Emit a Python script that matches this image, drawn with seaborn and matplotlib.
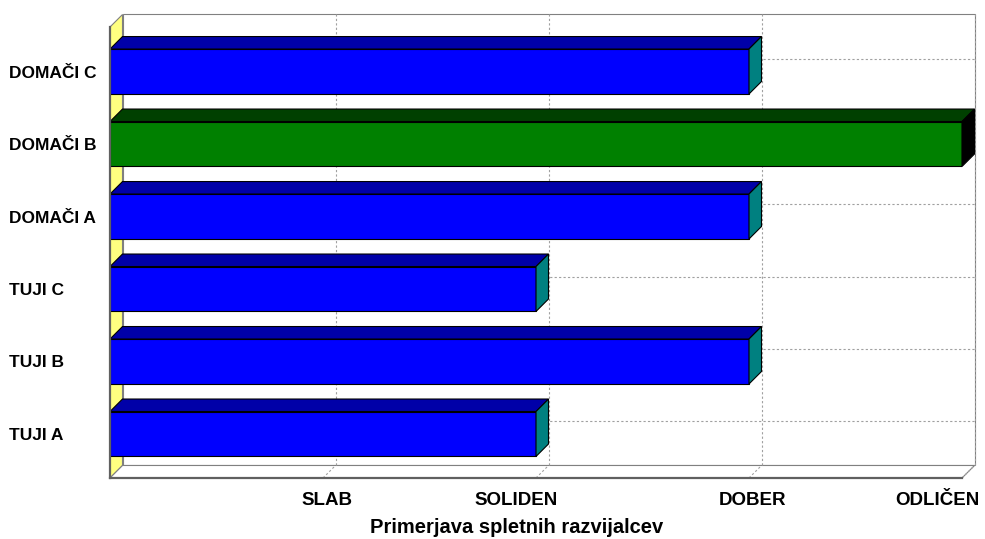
import matplotlib
matplotlib.use('Agg')
import matplotlib.pyplot as plt
import matplotlib.transforms as mtransforms
from matplotlib.patches import Polygon
import seaborn as sns

# Podatki
skupine = ['DOMAČI C', 'DOMAČI B', 'DOMAČI A', 'TUJI C', 'TUJI B', 'TUJI A']
ocene = [3, 4, 3, 2, 3, 2]
oznake_ocen = ['SLAB', 'SOLIDEN', 'DOBER', 'ODLIČEN']
polozaji_ocen = [1, 2, 3, 4]

barve_spredaj = ['#0000FF', '#008000', '#0000FF', '#0000FF', '#0000FF', '#0000FF']
barve_zgoraj = ['#0000A8', '#004000', '#0000A8', '#0000A8', '#0000A8', '#0000A8']
barve_stran = ['#008080', '#000000', '#008080', '#008080', '#008080', '#008080']

sns.set_style('white')
plt.rcParams['font.family'] = ['Liberation Sans', 'DejaVu Sans']
plt.rcParams['font.weight'] = 'bold'
plt.rcParams['text.color'] = 'black'
plt.rcParams['axes.labelcolor'] = 'black'
plt.rcParams['xtick.labelcolor'] = 'black'
plt.rcParams['ytick.labelcolor'] = 'black'

fig = plt.figure(figsize=(9.85, 5.39), dpi=100)
ax = fig.add_axes([110 / 985, 1 - 478 / 539, 852 / 985, 451 / 539])

sns.barplot(x=ocene, y=skupine, hue=skupine, palette=barve_spredaj, legend=False,
            orient='h', width=0.62, saturation=1, edgecolor='black', linewidth=0.8,
            ax=ax, zorder=3)

ax.set_xlim(0, 4)
ax.set_ylim(5.607, -0.614)
y_spodaj, y_zgoraj = 5.607, -0.614

# globina 3D v podatkovnih enotah
globina_px = 12.5
dx = globina_px / (852 / 4)
dy = globina_px / (451 / (y_spodaj - y_zgoraj))

siva = '#808080'
# stena levo, tla, zadnja stena
ax.add_patch(Polygon([(0, y_spodaj), (0, y_zgoraj), (dx, y_zgoraj - dy), (dx, y_spodaj - dy)],
                     facecolor='#FFFF80', edgecolor=siva, lw=0.8, clip_on=False, zorder=0.5))
ax.add_patch(Polygon([(0, y_spodaj), (4, y_spodaj), (4 + dx, y_spodaj - dy), (dx, y_spodaj - dy)],
                     facecolor='white', edgecolor=siva, lw=0.8, clip_on=False, zorder=0.5))
ax.add_patch(Polygon([(dx, y_spodaj - dy), (4 + dx, y_spodaj - dy), (4 + dx, y_zgoraj - dy), (dx, y_zgoraj - dy)],
                     facecolor='white', edgecolor=siva, lw=0.8, clip_on=False, zorder=0.4))

# mreža na zadnji steni
for t in polozaji_ocen:
    ax.plot([t + dx, t + dx], [y_spodaj - dy, y_zgoraj - dy], color='#A0A0A0', lw=0.8,
            ls=(0, (2, 2)), clip_on=False, zorder=0.6)
    ax.plot([t, t + dx], [y_spodaj, y_spodaj - dy], color='#A0A0A0', lw=0.8,
            ls=(0, (2, 2)), clip_on=False, zorder=0.6)
for c in range(len(skupine)):
    ax.plot([dx, 4 + dx], [c - dy, c - dy], color='#A0A0A0', lw=0.8,
            ls=(0, (2, 2)), clip_on=False, zorder=0.6)

# zgornja in stranska ploskev stolpcev
for p, zg, st in zip(ax.patches[:len(skupine)], barve_zgoraj, barve_stran):
    x0, x1 = p.get_x(), p.get_x() + p.get_width()
    yt, yb = p.get_y(), p.get_y() + p.get_height()
    ax.add_patch(Polygon([(x0, yt), (x1, yt), (x1 + dx, yt - dy), (x0 + dx, yt - dy)],
                         facecolor=zg, edgecolor='black', lw=0.8, clip_on=False, zorder=3))
    ax.add_patch(Polygon([(x1, yt), (x1, yb), (x1 + dx, yb - dy), (x1 + dx, yt - dy)],
                         facecolor=st, edgecolor='black', lw=0.8, clip_on=False, zorder=3))

for s in ['top', 'right']:
    ax.spines[s].set_visible(False)
for s in ['left', 'bottom']:
    ax.spines[s].set_color('#606060')
    ax.spines[s].set_linewidth(1.6)
    ax.spines[s].set_zorder(4)

ax.set_xticks(polozaji_ocen)
ax.set_xticklabels(oznake_ocen, fontsize=13.5, fontweight='bold')
ax.set_xticks([0.25 * i for i in range(17)], minor=True)
ax.tick_params(axis='x', which='both', direction='out', length=3, color='#606060', width=1)
ax.tick_params(axis='x', which='major', pad=7)
premiki = [4, -20, 3, -25]
for lab, m in zip(ax.get_xticklabels(), premiki):
    lab.set_transform(lab.get_transform() + mtransforms.ScaledTranslation(m / 100, 0, fig.dpi_scale_trans))

ax.tick_params(axis='y', direction='out', length=3, color='#606060', width=1, pad=69.8)
for lab in ax.get_yticklabels():
    lab.set_horizontalalignment('left')
    lab.set_fontsize(12.5)
    lab.set_fontweight('bold')

ax.set_ylabel('')
ax.set_xlabel('Primerjava spletnih razvijalcev', fontsize=14.5, fontweight='bold')
ax.xaxis.set_label_coords((517 - 110) / 852, -(518 - 478) / 451)
ax.set_facecolor('none')

plt.savefig('out.png', dpi=100)
